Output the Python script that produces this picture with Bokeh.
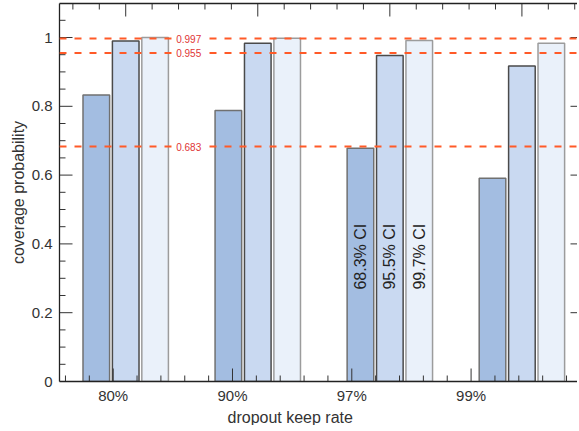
import numpy as np
from bokeh.plotting import figure
from bokeh.models import (LinearAxis, FixedTicker, CustomJSTickFormatter, Span,
                          Label, ColumnDataSource, Range1d, Title)
from bokeh.core.properties import value
from bokeh.embed import file_html
from bokeh.resources import INLINE

# ---- data ----
categories = ["80%", "90%", "97%", "99%"]
ci68 = [0.833, 0.788, 0.678, 0.591]
ci95 = [0.990, 0.983, 0.948, 0.917]
ci997 = [1.000, 0.998, 0.991, 0.983]
ref_levels = [0.997, 0.955, 0.683]
ref_labels = ["0.997", "0.955", "0.683"]
ci_labels = ["68.3% CI", "95.5% CI", "99.7% CI"]
y_ticks = [0, 0.2, 0.4, 0.6, 0.8, 1]

# ---- layout constants ----
GROUP0 = 1.105
GROUP_STEP = 1.107
BAR_OFFSET = 0.2465
BAR_W = 0.223
FONT = "Liberation Sans"
TXT = "#333333"
FW = 518
PXX = 119.3          # pixels per x unit
X0 = 0.55
X1 = X0 + FW / PXX
FH = 378
PXY = 344.0          # pixels per y unit
Y1 = FH / PXY

fills = ["#A3BDE1", "#C9D9F1", "#EAF1FA"]
lines = ["#707070", "#4A4A4A", "#9C9C9C"]

p = figure(frame_width=FW, frame_height=FH,
           x_range=Range1d(X0, X1), y_range=Range1d(0, Y1),
           x_axis_type=None, y_axis_type=None,
           output_backend="svg", toolbar_location=None,
           min_border_left=59, min_border_top=3, min_border_right=0,
           min_border_bottom=40)
p.xgrid.visible = False
p.ygrid.visible = False
p.outline_line_color = None
p.background_fill_color = "white"
p.border_fill_color = "white"

group_x = GROUP0 + GROUP_STEP * np.arange(len(categories))
for j, vals in enumerate([ci68, ci95, ci997]):
    src = ColumnDataSource(dict(x=group_x + (j - 1) * BAR_OFFSET, top=vals))
    p.vbar(x="x", top="top", width=BAR_W, bottom=0, source=src,
           fill_color=fills[j], line_color=lines[j], line_width=1.5)

# CI labels on the 97% group
g3 = group_x[2] + (np.arange(3) - 1) * BAR_OFFSET
p.text(x=list(g3), y=[0.363] * 3, text=ci_labels, angle=np.pi / 2,
       text_align="center", text_baseline="middle",
       text_font=value(FONT), text_font_size=value("16px"), text_color="#222222")

for lvl in ref_levels:
    p.add_layout(Span(location=lvl, dimension="width", line_color="#FF5A28",
                      line_width=2, line_dash="7 8"))
for lvl, lab in zip(ref_levels, ref_labels):
    p.add_layout(Label(x=1.503, y=lvl, text=lab, text_font=FONT,
                       text_font_size="10px", text_color="#E03535",
                       text_baseline="middle", background_fill_color="white",
                       padding=3))

# ---- inward frame ticks (computed from the tick arrays) ----
ym = [round(v, 2) for v in np.arange(0, Y1, 0.05) if round(v * 20) % 4 != 0]
xt = list(range(1, len(categories) + 1))
xm = [round(v, 2) for v in np.arange(0.6, X1, 0.2) if abs(v - round(v)) > 1e-6]
tt = list(group_x)
tm = [g + k * GROUP_STEP / 5 for g in np.concatenate([[GROUP0 - GROUP_STEP], group_x])
      for k in range(1, 5)]
tm = [v for v in tm if X0 < v < X1]

seg = dict(x0=[], y0=[], x1=[], y1=[])


def add(x0, y0, x1, y1):
    seg["x0"].append(x0); seg["y0"].append(y0)
    seg["x1"].append(x1); seg["y1"].append(y1)


for t in y_ticks:                      # left major
    add(X0, t, X0 + 13 / PXX, t)
for t in ym:                           # left minor
    add(X0, t, X0 + 6 / PXX, t)
for t in y_ticks[1:]:                  # right major
    add(X1, t, X1 - 7 / PXX, t)
for t in xt:                           # bottom major
    add(t, 0, t, 13 / PXY)
for t in xm:                           # bottom minor
    add(t, 0, t, 6 / PXY)
for t in tt:                           # top major
    add(t, Y1, t, Y1 - 13 / PXY)
for t in tm:                           # top minor
    add(t, Y1, t, Y1 - 6 / PXY)
p.segment(x0="x0", y0="y0", x1="x1", y1="y1", source=ColumnDataSource(seg),
          line_color="#333333", line_width=1)


def style(ax):
    ax.axis_line_color = "#222222"
    ax.axis_line_width = 1.3
    ax.major_tick_line_color = None
    ax.minor_tick_line_color = None
    ax.major_tick_in = 0
    ax.major_tick_out = 0
    ax.minor_tick_in = 0
    ax.minor_tick_out = 0
    ax.major_label_text_font = FONT
    ax.major_label_text_color = TXT
    ax.axis_label_text_font = FONT
    ax.axis_label_text_color = TXT
    ax.axis_label_text_font_style = "normal"


# left axis
left = LinearAxis(ticker=FixedTicker(ticks=y_ticks, minor_ticks=[]),
                  formatter=CustomJSTickFormatter(code="return String(Math.round(tick*10)/10)"),
                  axis_label="coverage probability")
style(left)
left.major_label_text_font_size = "15px"
left.axis_label_text_font_size = "16px"
left.major_label_standoff = 7
left.axis_label_standoff = 2
p.add_layout(left, "left")

# bottom axis
bottom = LinearAxis(ticker=FixedTicker(ticks=xt, minor_ticks=[]),
                    formatter=CustomJSTickFormatter(args=dict(labels=categories),
                                                    code="return labels[Math.round(tick)-1]"))
style(bottom)
bottom.major_label_text_font_size = "15px"
bottom.major_label_standoff = 5
p.add_layout(bottom, "below")

# x-axis title, placed left of frame centre as in the reference
p.add_layout(Title(text="dropout keep rate", align="left", offset=168,
                   text_font=FONT, text_font_size="16px", text_font_style="normal",
                   text_color=TXT, standoff=0), "below")

# top axis (frame line only)
top = LinearAxis(ticker=FixedTicker(ticks=[], minor_ticks=[]),
                 formatter=CustomJSTickFormatter(code="return ''"))
style(top)
top.major_label_text_font_size = "0px"
top.major_label_standoff = 0
p.add_layout(top, "above")

open("out.html", "w").write(file_html(p, INLINE))
